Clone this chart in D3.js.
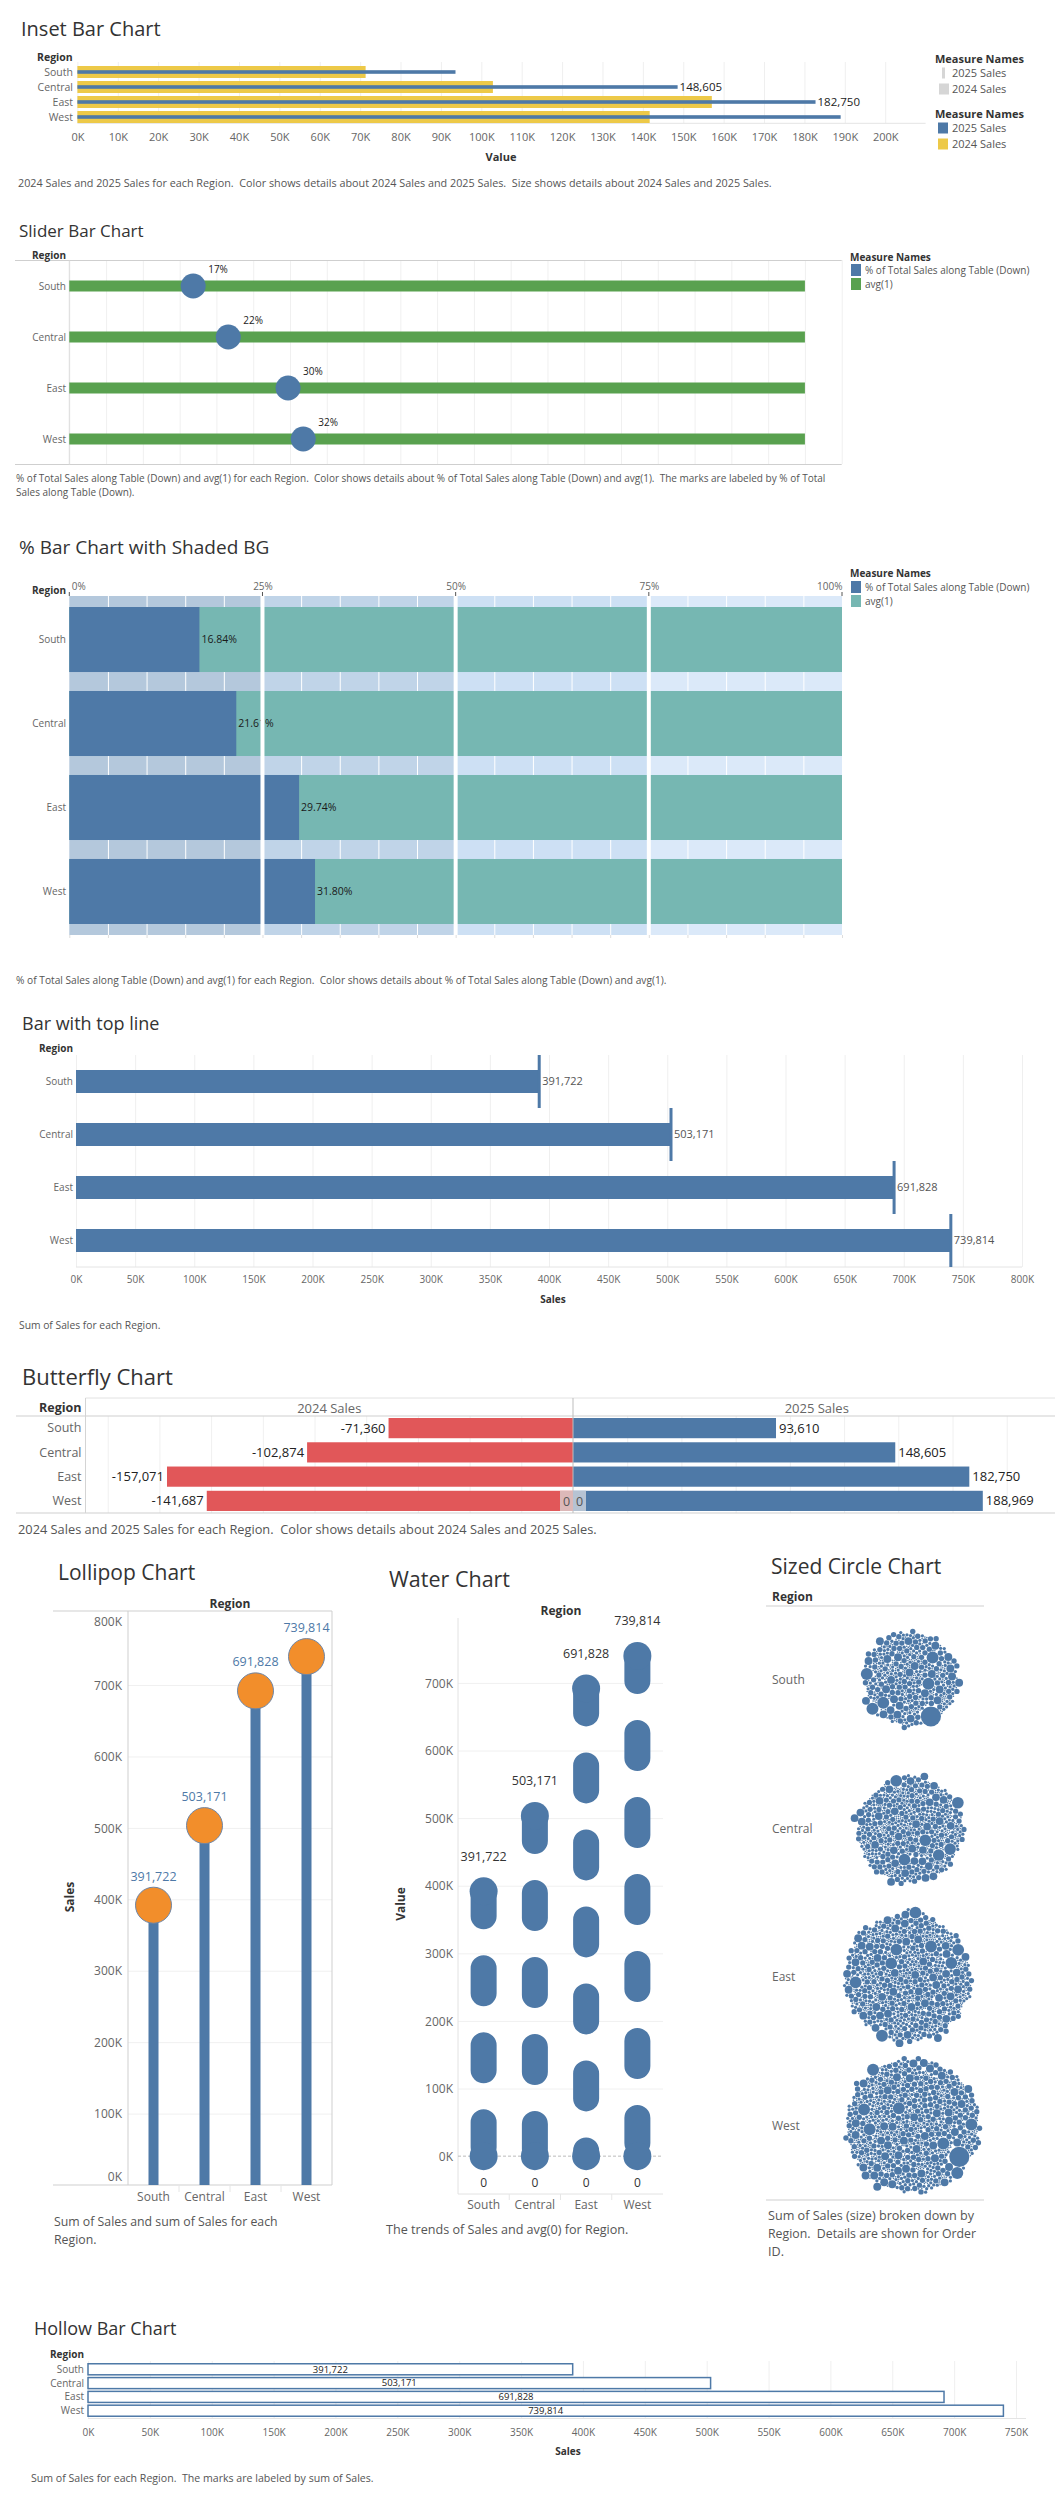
<!DOCTYPE html>
<html>
<head>
<meta charset="utf-8">
<script src="https://cdn.jsdelivr.net/npm/d3@7"></script>
<style>
  body { margin: 0; background: #fff; }
  svg { display: block; font-family: "Open Sans", sans-serif; }
  svg text { white-space: pre; }
</style>
</head>
<body>
<svg id="page" width="1055" height="2503"></svg>
<script>
// ---- data ----
const REGIONS = ['South', 'Central', 'East', 'West'];
const SALES_2024 = [71360, 102874, 157071, 141687];
const SALES_2025 = [93610, 148605, 182750, 188969];
const SALES_TOTAL = [391722, 503171, 691828, 739814];
const PCT_OF_TOTAL = [0.1684, 0.2161, 0.2974, 0.318];
const AVG_ONE = [1, 1, 1, 1];
const WATER_BASE = [0, 0, 0, 0];
const INSET_LABELLED = ['Central', 'East'];
const BG_QUARTERS = [0.25, 0.25, 0.25, 0.25];
const BUTTERFLY_ZERO_ROW = 'West';
// packed bubbles: rough order-size classes and how many of each per region
const ORDER_BUCKET_SALES = [22600, 8000, 3500, 1600, 600, 150];
const ORDER_COUNTS = [
  [1, 5, 25, 80, 145, 190],
  [0, 6, 30, 110, 215, 300],
  [0, 8, 40, 150, 315, 400],
  [1, 7, 42, 160, 315, 470],
];

const BLUE = '#4E79A7';
const YELLOW = '#EDC948';
const GREEN = '#59A14F';
const TEAL = '#76B7B2';
const RED = '#E15759';
const ORANGE = '#F28E2B';

const fmtK = d => d3.format(',')(d / 1000) + 'K';
const fmtComma = d3.format(',');
const fmtNeg = d => '-' + fmtComma(d);   // tableau shows a plain hyphen

const svg = d3.select('#page');

function txt(g, x, y, s, o = {}) {
  return g.append('text')
    .attr('x', x).attr('y', y).attr('dy', '0.35em')
    .attr('text-anchor', o.anchor || 'start')
    .attr('xml:space', 'preserve')
    .style('font-size', (o.size || 10) + 'px')
    .style('font-weight', o.bold ? 'bold' : null)
    .attr('fill', o.color || '#666')
    .text(s);
}

function line(g, x1, y1, x2, y2, c = '#d4d4d4', w = 1) {
  return g.append('line')
    .attr('x1', x1).attr('y1', y1).attr('x2', x2).attr('y2', y2)
    .attr('stroke', c).attr('stroke-width', w);
}

function drawAxis(g, axis, tx, ty, size, vertical) {
  const a = g.append('g').attr('transform', `translate(${tx},${ty})`).call(axis);
  a.attr('font-family', null).attr('font-size', null);
  a.select('.domain').remove();
  a.selectAll('.tick line').remove();
  const t = a.selectAll('.tick text')
    .style('font-size', size + 'px')
    .attr('fill', '#666')
    .attr('dy', '0.35em');
  if (vertical) t.attr('x', 0); else t.attr('y', 0);
  return a;
}

function drawGrid(g, axis, tx, ty, c = '#efefef') {
  const a = g.append('g').attr('transform', `translate(${tx},${ty})`)
    .call(axis.tickFormat(''));
  a.select('.domain').remove();
  a.selectAll('.tick line').attr('stroke', c);
  a.selectAll('.tick text').remove();
  return a;
}

function legendItem(g, x, y, color, label, w = 10, h = 10, size = 10, tx = x + 14) {
  g.append('rect').attr('x', x).attr('y', y - h / 2).attr('width', w).attr('height', h).attr('fill', color);
  txt(g, tx, y, label, { size, color: '#555' });
}

// ---------- Inset Bar Chart ----------
(function () {
  const g = svg.append('g');
  txt(g, 21, 29, 'Inset Bar Chart', { size: 20, color: '#333' });
  const x = d3.scaleLinear().domain([0, 210000]).range([77.4, 925.6]);
  const y = d3.scaleBand().domain(REGIONS).range([64.5, 124.5]).paddingInner(0.2).paddingOuter(0.1);
  const ticks = d3.range(0, 200001, 10000);

  drawGrid(g, d3.axisBottom(x).tickValues(ticks).tickSize(-61), 0, 123);
  line(g, 77.4, 123.3, 925.6, 123.3, '#e4e4e4');
  drawAxis(g, d3.axisBottom(x).tickValues(ticks).tickFormat(fmtK), 0, 137, 11);

  g.selectAll('.y24').data(REGIONS).join('rect')
    .attr('x', x(0)).attr('y', d => y(d))
    .attr('width', (d, i) => x(SALES_2024[i]) - x(0)).attr('height', y.bandwidth())
    .attr('fill', YELLOW);
  g.selectAll('.y25').data(REGIONS).join('rect')
    .attr('x', x(0)).attr('y', d => y(d) + y.bandwidth() / 2 - 1.8)
    .attr('width', (d, i) => x(SALES_2025[i]) - x(0)).attr('height', 3.6)
    .attr('fill', BLUE);
  REGIONS.forEach((r, i) => {
    if (INSET_LABELLED.includes(r)) {
      txt(g, x(SALES_2025[i]) + 2, y(r) + y.bandwidth() / 2, fmtComma(SALES_2025[i]), { size: 11.5, color: '#222' });
    }
    txt(g, 73, y(r) + y.bandwidth() / 2, r, { anchor: 'end', size: 10.5 });
  });
  txt(g, 37, 57, 'Region', { bold: true, color: '#333', size: 10.5 });
  txt(g, 501, 157, 'Value', { bold: true, color: '#333', anchor: 'middle', size: 11 });

  txt(g, 935, 59, 'Measure Names', { bold: true, color: '#333', size: 11 });
  legendItem(g, 942, 73, '#d6d6d6', '2025 Sales', 3, 11, 11, 952);
  legendItem(g, 939, 89, '#d6d6d6', '2024 Sales', 10, 11, 11, 952);
  txt(g, 935, 114, 'Measure Names', { bold: true, color: '#333', size: 11 });
  legendItem(g, 938, 128, BLUE, '2025 Sales', 10, 11, 11, 952);
  legendItem(g, 938, 144, YELLOW, '2024 Sales', 10, 11, 11, 952);

  txt(g, 18, 183, '2024 Sales and 2025 Sales for each Region.  Color shows details about 2024 Sales and 2025 Sales.  Size shows details about 2024 Sales and 2025 Sales.', { size: 10.8, color: '#555' });
})();

// ---------- Slider Bar Chart ----------
(function () {
  const g = svg.append('g');
  txt(g, 19, 231, 'Slider Bar Chart', { size: 17, color: '#333' });
  const x = d3.scaleLinear().domain([0, 1.05]).range([69.3, 841.7]);
  const y = d3.scaleBand().domain(REGIONS).range([260.5, 464.5]);
  const grid = d3.range(0, 1.0501, 0.05);

  drawGrid(g, d3.axisBottom(x).tickValues(grid).tickSize(-204), 0, 464, '#f0f0f0');
  line(g, 15, 260.5, 841.7, 260.5, '#cfcfcf');
  line(g, 15, 464.5, 841.7, 464.5, '#cfcfcf');
  line(g, 69.3, 260.5, 69.3, 464.5, '#dcdcdc');

  g.selectAll('.avg').data(REGIONS).join('rect')
    .attr('x', x(0)).attr('y', d => y(d) + y.bandwidth() / 2 - 5.5)
    .attr('width', (d, i) => x(AVG_ONE[i]) - x(0)).attr('height', 11)
    .attr('fill', GREEN);
  g.selectAll('.dot').data(REGIONS).join('ellipse')
    .attr('cx', (d, i) => x(PCT_OF_TOTAL[i])).attr('cy', d => y(d) + y.bandwidth() / 2)
    .attr('rx', 12.5).attr('ry', 12.5)
    .attr('fill', BLUE);
  REGIONS.forEach((r, i) => {
    const cy = y(r) + y.bandwidth() / 2;
    txt(g, x(PCT_OF_TOTAL[i]) + 15, cy - 17, d3.format('.0%')(PCT_OF_TOTAL[i]), { size: 10, color: '#222' });
    txt(g, 66, cy, r, { anchor: 'end', size: 10 });
  });
  txt(g, 66, 255, 'Region', { bold: true, color: '#333', anchor: 'end' });

  txt(g, 850, 257, 'Measure Names', { bold: true, color: '#333' });
  legendItem(g, 851, 270, BLUE, '% of Total Sales along Table (Down)', 10, 12);
  legendItem(g, 851, 284, GREEN, 'avg(1)', 10, 12);

  txt(g, 16, 478, '% of Total Sales along Table (Down) and avg(1) for each Region.  Color shows details about % of Total Sales along Table (Down) and avg(1).  The marks are labeled by % of Total', { size: 10, color: '#555' });
  txt(g, 16, 492, 'Sales along Table (Down).', { size: 10, color: '#555' });
})();

// ---------- % Bar Chart with Shaded BG ----------
(function () {
  const g = svg.append('g');
  txt(g, 19, 547, '% Bar Chart with Shaded BG', { size: 19, color: '#333' });
  const x = d3.scaleLinear().domain([0, 1]).range([69.3, 842]);
  const y = d3.scaleBand().domain(REGIONS).range([596, 935]).paddingInner(0.226).paddingOuter(0.131);
  const top = 596, bot = 935;
  const bgColors = ['#b4c8dc', '#c0d4e8', '#cde0f4', '#dbe9f9'];
  const starts = d3.cumsum([0].concat(BG_QUARTERS.slice(0, -1)));

  g.selectAll('.bg').data(BG_QUARTERS).join('rect')
    .attr('x', (d, i) => x(starts[i])).attr('y', top)
    .attr('width', d => x(d) - x(0)).attr('height', bot - top)
    .attr('fill', (d, i) => bgColors[i]);
  const fine = d3.range(0.05, 0.9999, 0.05);
  drawGrid(g, d3.axisBottom(x).tickValues(fine).tickSize(-(bot - top)), 0, bot, '#ffffff');
  drawGrid(g, d3.axisBottom(x).tickValues(d3.range(0, 1.0001, 0.05)).tickSize(3), 0, bot, '#dddddd');

  g.selectAll('.avg').data(REGIONS).join('rect')
    .attr('x', x(0)).attr('y', d => y(d))
    .attr('width', (d, i) => x(AVG_ONE[i]) - x(0)).attr('height', y.bandwidth())
    .attr('fill', TEAL);
  g.selectAll('.pct').data(REGIONS).join('rect')
    .attr('x', x(0)).attr('y', d => y(d))
    .attr('width', (d, i) => x(PCT_OF_TOTAL[i]) - x(0)).attr('height', y.bandwidth())
    .attr('fill', BLUE);
  REGIONS.forEach((r, i) => {
    const cy = y(r) + y.bandwidth() / 2;
    txt(g, x(PCT_OF_TOTAL[i]) + 2, cy, d3.format('.2%')(PCT_OF_TOTAL[i]), { size: 10.5, color: '#1a1a1a' });
    txt(g, 66, cy, r, { anchor: 'end', size: 10 });
  });
  [0.25, 0.5, 0.75].forEach(v => line(g, x(v), top, x(v), bot, '#ffffff', 4));

  const quarterTicks = [0, 0.25, 0.5, 0.75, 1];
  quarterTicks.forEach(v => line(g, x(v), 592, x(v), 596, '#555'));
  const ax = drawAxis(g, d3.axisTop(x).tickValues(quarterTicks).tickFormat(d3.format('.0%')), 0, 586, 10);
  ax.selectAll('.tick text').attr('text-anchor', d => d === 0 ? 'start' : d === 1 ? 'end' : 'middle')
    .attr('x', d => d === 0 ? 2 : 0);
  txt(g, 66, 590, 'Region', { bold: true, color: '#333', anchor: 'end' });

  txt(g, 850, 573, 'Measure Names', { bold: true, color: '#333' });
  legendItem(g, 851, 587, BLUE, '% of Total Sales along Table (Down)', 10, 12);
  legendItem(g, 851, 601, TEAL, 'avg(1)', 10, 12);

  txt(g, 16, 980, '% of Total Sales along Table (Down) and avg(1) for each Region.  Color shows details about % of Total Sales along Table (Down) and avg(1).', { size: 10.2, color: '#555' });
})();

// ---------- Bar with top line ----------
(function () {
  const g = svg.append('g');
  txt(g, 22, 1024, 'Bar with top line', { size: 18, color: '#333' });
  const x = d3.scaleLinear().domain([0, 800000]).range([76, 1022]);
  const y = d3.scaleBand().domain(REGIONS).range([1055, 1267]).paddingInner(0.566).paddingOuter(0.283);
  const ticks = d3.range(0, 800001, 50000);

  drawGrid(g, d3.axisBottom(x).tickValues(ticks).tickSize(-212), 0, 1267);
  line(g, 76, 1267, 1022, 1267, '#e4e4e4');
  drawAxis(g, d3.axisBottom(x).tickValues(ticks).tickFormat(fmtK), 0, 1279, 10);

  g.selectAll('.bar').data(REGIONS).join('rect')
    .attr('x', x(0)).attr('y', d => y(d))
    .attr('width', (d, i) => x(SALES_TOTAL[i]) - x(0)).attr('height', y.bandwidth())
    .attr('fill', BLUE);
  g.selectAll('.cap').data(REGIONS).join('rect')
    .attr('x', (d, i) => x(SALES_TOTAL[i]) - 1.5)
    .attr('y', d => y(d) + y.bandwidth() / 2 - y.step() / 2)
    .attr('width', 3).attr('height', y.step())
    .attr('fill', BLUE);
  REGIONS.forEach((r, i) => {
    const cy = y(r) + y.bandwidth() / 2;
    txt(g, x(SALES_TOTAL[i]) + 3, cy, fmtComma(SALES_TOTAL[i]), { size: 11, color: '#555' });
    txt(g, 73, cy, r, { anchor: 'end', size: 10 });
  });
  txt(g, 73, 1048, 'Region', { bold: true, color: '#333', anchor: 'end' });
  txt(g, 553, 1299, 'Sales', { bold: true, color: '#333', anchor: 'middle' });
  txt(g, 19, 1325, 'Sum of Sales for each Region.', { size: 10.3, color: '#555' });
})();

// ---------- Butterfly Chart ----------
(function () {
  const g = svg.append('g');
  txt(g, 22, 1377, 'Butterfly Chart', { size: 22, color: '#333' });
  const mid = 573;
  const xl = d3.scaleLinear().domain([0, 188600]).range([mid, 85.5]);
  const xr = d3.scaleLinear().domain([0, 224800]).range([mid, 1060.5]);
  const y = d3.scaleBand().domain(REGIONS).range([1416, 1513]).paddingInner(0.167).paddingOuter(0.083);

  drawGrid(g, d3.axisBottom(xl).tickValues(d3.range(20000, 180001, 20000)).tickSize(-97), 0, 1513, '#f0f0f0');
  drawGrid(g, d3.axisBottom(xr).tickValues(d3.range(25000, 200001, 25000)).tickSize(-97), 0, 1513, '#f0f0f0');
  line(g, 85.5, 1398, 1055, 1398, '#e2e2e2');
  line(g, 16, 1416, 1055, 1416, '#cfcfcf');
  line(g, 16, 1513, 1055, 1513, '#cfcfcf');
  line(g, 85.5, 1398, 85.5, 1513, '#d4d4d4');

  g.selectAll('.l').data(REGIONS).join('rect')
    .attr('x', (d, i) => xl(SALES_2024[i])).attr('y', d => y(d))
    .attr('width', (d, i) => mid - xl(SALES_2024[i])).attr('height', y.bandwidth())
    .attr('fill', RED);
  g.selectAll('.r').data(REGIONS).join('rect')
    .attr('x', mid).attr('y', d => y(d))
    .attr('width', (d, i) => xr(SALES_2025[i]) - mid).attr('height', y.bandwidth())
    .attr('fill', BLUE);
  line(g, mid, 1398, mid, 1513, '#bdbdbd');

  REGIONS.forEach((r, i) => {
    const cy = y(r) + y.bandwidth() / 2;
    txt(g, xl(SALES_2024[i]) - 3, cy, fmtNeg(SALES_2024[i]), { anchor: 'end', size: 13, color: '#222' });
    txt(g, xr(SALES_2025[i]) + 3, cy, fmtComma(SALES_2025[i]), { size: 13, color: '#222' });
    txt(g, 81.5, cy, r, { anchor: 'end', size: 12.5 });
  });
  // the two "0" marks sitting on the centre line of the last row
  const zy = y(BUTTERFLY_ZERO_ROW);
  g.append('rect').attr('x', mid - 13).attr('y', zy).attr('width', 13).attr('height', y.bandwidth()).attr('fill', '#dcb8b8');
  g.append('rect').attr('x', mid).attr('y', zy).attr('width', 13).attr('height', y.bandwidth()).attr('fill', '#b6c3d3');
  txt(g, mid - 6.5, zy + y.bandwidth() / 2 + 1, '0', { anchor: 'middle', size: 12.5, color: '#555' });
  txt(g, mid + 6.5, zy + y.bandwidth() / 2 + 1, '0', { anchor: 'middle', size: 12.5, color: '#555' });

  txt(g, 81.5, 1408, 'Region', { bold: true, color: '#333', anchor: 'end', size: 12.5 });
  txt(g, (85.5 + mid) / 2, 1408, '2024 Sales', { anchor: 'middle', size: 13 });
  txt(g, (mid + 1060.5) / 2, 1408, '2025 Sales', { anchor: 'middle', size: 13 });
  txt(g, 18, 1530, '2024 Sales and 2025 Sales for each Region.  Color shows details about 2024 Sales and 2025 Sales.', { size: 12.8, color: '#555' });
})();

// ---------- Lollipop Chart ----------
(function () {
  const g = svg.append('g');
  txt(g, 58, 1573, 'Lollipop Chart', { size: 21, color: '#333' });
  const left = 128, right = 332, top = 1611, bot = 2185;
  const x = d3.scaleBand().domain(REGIONS).range([left, right]);
  const y = d3.scaleLinear().domain([0, 800000]).range([bot, 1613.6]);
  const ticks = d3.range(0, 800001, 100000);

  drawGrid(g, d3.axisLeft(y).tickValues(ticks.slice(1, -1)).tickSize(-(right - left)), left, 0, '#f0f0f0');
  line(g, 53, top, right, top, '#cfcfcf');
  line(g, left, top, left, bot, '#cfcfcf');
  line(g, right, top, right, bot, '#cfcfcf');
  line(g, 53, bot, right, bot, '#cfcfcf');
  REGIONS.slice(1).forEach(r => line(g, x(r), bot, x(r), bot + 7, '#e6e6e6'));

  const ax = drawAxis(g, d3.axisLeft(y).tickValues(ticks).tickFormat(fmtK), 122, 0, 12, true);
  ax.selectAll('.tick text').attr('dy', d => d === 0 ? '-0.4em' : d === 800000 ? '0.95em' : '0.35em');

  const cx = r => x(r) + x.bandwidth() / 2;
  g.selectAll('.stem').data(REGIONS).join('rect')
    .attr('x', d => cx(d) - 5).attr('y', (d, i) => y(SALES_TOTAL[i]))
    .attr('width', 10).attr('height', (d, i) => bot - y(SALES_TOTAL[i]))
    .attr('fill', BLUE);
  g.selectAll('.pop').data(REGIONS).join('circle')
    .attr('cx', cx).attr('cy', (d, i) => y(SALES_TOTAL[i])).attr('r', 18)
    .attr('fill', ORANGE).attr('stroke', '#6f86a6').attr('stroke-width', 1);
  REGIONS.forEach((r, i) => {
    txt(g, cx(r), y(SALES_TOTAL[i]) - 29, fmtComma(SALES_TOTAL[i]), { anchor: 'middle', size: 12.5, color: BLUE });
    txt(g, cx(r), 2197, r, { anchor: 'middle', size: 12 });
  });
  txt(g, 230, 1604, 'Region', { bold: true, color: '#333', anchor: 'middle', size: 12 });
  txt(g, 0, 0, 'Sales', { bold: true, color: '#333', anchor: 'middle', size: 12 })
    .attr('transform', 'translate(70,1897) rotate(-90)');
  txt(g, 54, 2222, 'Sum of Sales and sum of Sales for each', { size: 12.3, color: '#555' });
  txt(g, 54, 2240, 'Region.', { size: 12.3, color: '#555' });
})();

// ---------- Water Chart ----------
(function () {
  const g = svg.append('g');
  txt(g, 389, 1579, 'Water Chart', { size: 21.5, color: '#333' });
  const left = 458, right = 663, top = 1618, bot = 2194;
  const x = d3.scaleBand().domain(REGIONS).range([left, right]);
  const y = d3.scaleLinear().domain([-56000, 796000]).range([bot, top]);
  const ticks = d3.range(0, 700001, 100000);

  drawGrid(g, d3.axisLeft(y).tickValues(ticks.slice(1)).tickSize(-(right - left)), left, 0, '#f0f0f0');
  line(g, left, top, left, bot, '#e2e2e2');
  line(g, left, bot, right, bot, '#e2e2e2');
  REGIONS.slice(1).forEach(r => line(g, x(r), bot, x(r), bot + 6, '#e6e6e6'));
  line(g, left, y(0), right, y(0), '#bbbbbb').attr('stroke-dasharray', '3,2');
  drawAxis(g, d3.axisLeft(y).tickValues(ticks).tickFormat(fmtK), 453, 0, 12, true);

  const cx = r => x(r) + x.bandwidth() / 2;
  g.selectAll('.drop').data(REGIONS).join('line')
    .attr('x1', cx).attr('x2', cx)
    .attr('y1', (d, i) => y(SALES_TOTAL[i])).attr('y2', (d, i) => y(WATER_BASE[i]))
    .attr('stroke', BLUE).attr('stroke-width', 26)
    .attr('stroke-linecap', 'round').attr('stroke-dasharray', '25,52');
  g.selectAll('.endT').data(REGIONS).join('circle')
    .attr('cx', cx).attr('cy', (d, i) => y(SALES_TOTAL[i])).attr('r', 14).attr('fill', BLUE);
  g.selectAll('.endB').data(REGIONS).join('circle')
    .attr('cx', cx).attr('cy', (d, i) => y(WATER_BASE[i])).attr('r', 14).attr('fill', BLUE);
  REGIONS.forEach((r, i) => {
    txt(g, cx(r), y(SALES_TOTAL[i]) - 35, fmtComma(SALES_TOTAL[i]), { anchor: 'middle', size: 12.5, color: '#333' });
    txt(g, cx(r), 2183, String(WATER_BASE[i]), { anchor: 'middle', size: 12, color: '#333' });
    txt(g, cx(r), 2205, r, { anchor: 'middle', size: 12 });
  });
  txt(g, 561, 1611, 'Region', { bold: true, color: '#333', anchor: 'middle', size: 12 });
  txt(g, 0, 0, 'Value', { bold: true, color: '#333', anchor: 'middle', size: 12 })
    .attr('transform', 'translate(401,1904) rotate(-90)');
  txt(g, 386, 2230, 'The trends of Sales and avg(0) for Region.', { size: 12.6, color: '#555' });
})();

// ---------- Sized Circle Chart ----------
(function () {
  const g = svg.append('g');
  txt(g, 771, 1567, 'Sized Circle Chart', { size: 21, color: '#333' });
  const y = d3.scaleBand().domain(REGIONS).range([1606, 2200]);
  const rScale = d3.scaleSqrt().domain([0, d3.max(SALES_TOTAL)]).range([0, 73.5]);
  line(g, 766, 1606, 984, 1606, '#cfcfcf');
  line(g, 766, 2200, 984, 2200, '#cfcfcf');

  function orderLeaves(counts) {
    const leaves = [];
    counts.forEach((c, b) => {
      for (let j = 0; j < c; j++) leaves.push({ value: ORDER_BUCKET_SALES[b], key: (j + 0.5) / c, b });
    });
    return leaves.sort((a, b) => a.key - b.key || a.b - b.b);
  }

  REGIONS.forEach((reg, i) => {
    const R = rScale(SALES_TOTAL[i]);
    const cy = y(reg) + y.bandwidth() / 2;
    const root = d3.pack().size([2 * R, 2 * R]).padding(0.35)(
      d3.hierarchy({ children: orderLeaves(ORDER_COUNTS[i]) }).sum(d => d.value)
    );
    g.append('g').attr('transform', `translate(${910 - R},${cy - R})`)
      .selectAll('circle').data(root.leaves()).join('circle')
      .attr('cx', d => d.x).attr('cy', d => d.y).attr('r', d => d.r)
      .attr('fill', BLUE);
    txt(g, 772, cy, reg, { size: 12 });
  });
  txt(g, 772, 1597, 'Region', { bold: true, color: '#333', size: 12 });
  txt(g, 768, 2216, 'Sum of Sales (size) broken down by', { size: 12.6, color: '#555' });
  txt(g, 768, 2234, 'Region.  Details are shown for Order', { size: 12.3, color: '#555' });
  txt(g, 768, 2252, 'ID.', { size: 12.6, color: '#555' });
})();

// ---------- Hollow Bar Chart ----------
(function () {
  const g = svg.append('g');
  txt(g, 34, 2329, 'Hollow Bar Chart', { size: 18, color: '#333' });
  const x = d3.scaleLinear().domain([0, 750000]).range([88, 1016]);
  const y = d3.scaleBand().domain(REGIONS).range([2361, 2419]).padding(0.2);
  const ticks = d3.range(0, 750001, 50000);

  drawGrid(g, d3.axisBottom(x).tickValues(ticks).tickSize(-57), 0, 2418);
  line(g, 88, 2418.5, 1026, 2418.5, '#e4e4e4');
  drawAxis(g, d3.axisBottom(x).tickValues(ticks).tickFormat(fmtK), 0, 2432, 10);

  g.selectAll('.hb').data(REGIONS).join('rect')
    .attr('x', x(0)).attr('y', d => y(d))
    .attr('width', (d, i) => x(SALES_TOTAL[i]) - x(0)).attr('height', y.bandwidth())
    .attr('fill', '#fff').attr('stroke', BLUE).attr('stroke-width', 1.5);
  REGIONS.forEach((r, i) => {
    const cy = y(r) + y.bandwidth() / 2;
    txt(g, (x(0) + x(SALES_TOTAL[i])) / 2, cy, fmtComma(SALES_TOTAL[i]), { anchor: 'middle', size: 9.5, color: '#222' });
    txt(g, 84, cy, r, { anchor: 'end', size: 10 });
  });
  txt(g, 84, 2354, 'Region', { bold: true, color: '#333', anchor: 'end' });
  txt(g, 568, 2451, 'Sales', { bold: true, color: '#333', anchor: 'middle' });
  txt(g, 31, 2478, 'Sum of Sales for each Region.  The marks are labeled by sum of Sales.', { size: 10.6, color: '#555' });
})();
</script>
</body>
</html>
